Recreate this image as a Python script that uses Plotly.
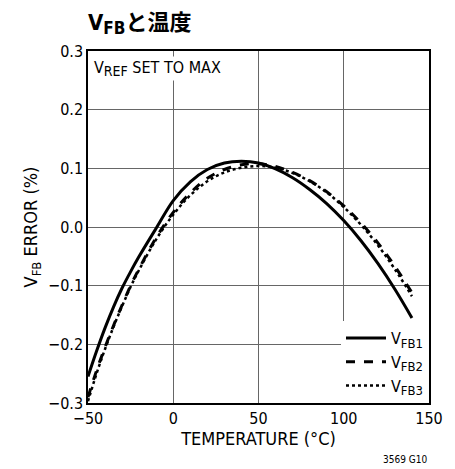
import plotly.graph_objects as go

# Temperature sweep (°C)
temperature = [-50, -45, -40, -35, -30, -25, -20, -10, 0, 10, 20, 30, 40, 50,
               60, 70, 80, 90, 100, 110, 120, 130, 140]

# Feedback voltage error (%) for each channel
vfb1 = [-0.255, -0.212, -0.172, -0.136, -0.104, -0.076, -0.050, -0.002, 0.045,
        0.077, 0.098, 0.109, 0.112, 0.109, 0.099, 0.084, 0.064, 0.040, 0.011,
        -0.023, -0.062, -0.106, -0.155]
vfb2 = [-0.290, -0.245, -0.205, -0.168, -0.133, -0.100, -0.071, -0.018, 0.025,
        0.058, 0.083, 0.098, 0.106, 0.108, 0.103, 0.093, 0.079, 0.060, 0.036,
        0.007, -0.027, -0.067, -0.112]
vfb3 = [-0.297, -0.250, -0.208, -0.170, -0.135, -0.102, -0.073, -0.021, 0.021,
        0.054, 0.078, 0.093, 0.101, 0.104, 0.101, 0.092, 0.078, 0.059, 0.034,
        0.004, -0.031, -0.072, -0.118]

x_ticks = [-50, 0, 50, 100, 150]
x_tick_text = ["\u221250", "0", "50", "100", "150"]
y_ticks = [-0.3, -0.2, -0.1, 0.0, 0.1, 0.2, 0.3]
y_tick_text = ["\u22120.3", "\u22120.2", "\u22120.1", "0.0", "0.1", "0.2", "0.3"]

FONT = "DejaVu Sans Condensed, Liberation Sans Narrow, Roboto, Noto Sans CJK JP, sans-serif"
GRID = "#666666"


def sub(base, s, size=13):
    return f"{base}<sub><span style='font-size:{size}px'>{s}</span></sub>"


series = [
    (sub("V", "FB1"), vfb1, "solid", 3),
    (sub("V", "FB2"), vfb2, "dash", 3),
    (sub("V", "FB3"), vfb3, "dot", 2.5),
]

fig = go.Figure()
for name, vals, dash, width in series:
    fig.add_trace(go.Scatter(
        x=temperature, y=vals, mode="lines", name=name,
        line=dict(color="black", width=width, dash=dash, shape="spline"),
    ))

fig.update_layout(
    width=455, height=469,
    margin=dict(l=88, r=14, t=51, b=66),
    paper_bgcolor="white", plot_bgcolor="white",
    font=dict(family=FONT, size=15, color="black"),
    title=dict(
        text="<b>V" + "<sub><span style='font-size:17px'>FB</span></sub>" + "と温度</b>",
        x=88 / 455, xanchor="left", xref="container",
        y=1 - 22 / 469, yanchor="middle", yref="container",
        font=dict(family=FONT, size=22, color="black"),
    ),
    legend=dict(
        x=1, y=0, xanchor="right", yanchor="bottom",
        bgcolor="white", borderwidth=0,
        font=dict(size=16), itemwidth=40,
        tracegroupgap=0,
    ),
    xaxis=dict(
        range=[-50, 150], tickvals=x_ticks, ticktext=x_tick_text,
        showgrid=True, gridcolor=GRID, gridwidth=1,
        showline=True, linecolor="black", linewidth=1.5, mirror=True,
        ticks="", zeroline=False, tickfont=dict(size=16),
        title=dict(text="TEMPERATURE (°C)", standoff=4),
    ),
    yaxis=dict(
        range=[-0.3, 0.3], tickvals=y_ticks, ticktext=y_tick_text,
        showgrid=True, gridcolor=GRID, gridwidth=1,
        showline=True, linecolor="black", linewidth=1.5, mirror=True,
        ticks="", zeroline=False, tickfont=dict(size=16),
        title=dict(text=sub("V", "FB") + " ERROR (%)", standoff=6),
    ),
    annotations=[
        dict(text=sub("V", "REF", 14) + " SET TO MAX", xref="paper", yref="paper",
             x=0.012, y=0.985, xanchor="left", yanchor="top",
             showarrow=False, bgcolor="white", font=dict(size=16)),
        dict(text="3569 G10", xref="paper", yref="paper",
             x=1, y=-64 / 352, xanchor="right", yanchor="bottom",
             showarrow=False, font=dict(size=10)),
    ],
)

fig.write_html("out.html")
